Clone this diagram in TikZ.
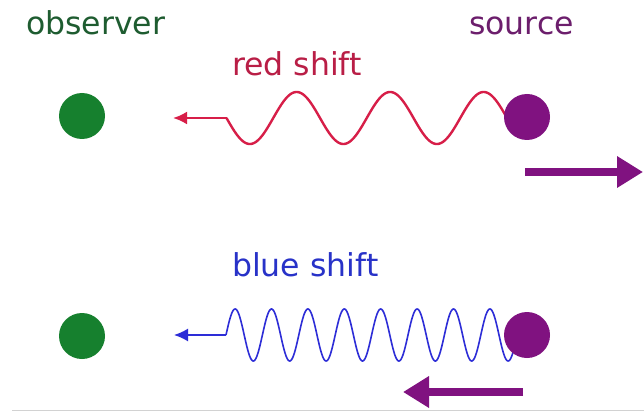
\documentclass[tikz,border=0pt]{standalone}
\usepackage{fontspec}
\setmainfont{DejaVu Sans}
\usetikzlibrary{arrows.meta}
\definecolor{obsgreen}{RGB}{30,92,48}
\definecolor{dotgreen}{RGB}{22,128,46}
\definecolor{srcpurple}{RGB}{108,30,108}
\definecolor{dotpurple}{RGB}{128,18,128}
\definecolor{redtext}{RGB}{185,30,70}
\definecolor{redwave}{RGB}{215,30,72}
\definecolor{bluetext}{RGB}{40,50,200}
\definecolor{bluewave}{RGB}{45,45,215}
\tikzset{
  lbl/.style={inner sep=0pt, anchor=base west, font=\fontsize{31.5}{36}\selectfont},
  dot/.style={circle, inner sep=0pt, minimum size=46pt, fill=#1},
  motion/.style={draw=dotpurple, line width=8pt, -{Triangle[length=26pt,width=30pt]}},
  wavered/.style={draw=redwave, line width=2.4pt},
  waveblue/.style={draw=bluewave, line width=1.6pt},
}
\begin{document}
\begin{tikzpicture}[x=1pt,y=-1pt]
\useasboundingbox (0,0) rectangle (644,414);
\fill[white] (0,0) rectangle (644,414);
% labels
\node[lbl, text=obsgreen] (obs) at (26,35) {observer};
\node[lbl, text=srcpurple] (src) at (469,35) {source};
\node[lbl, text=redtext] (rs) at (232,76) {red shift};
\node[lbl, text=bluetext] (bs) at (232,276) {blue shift};
% red shift wave
\coordinate (rstart) at (226.5,118);
\coordinate (rtip) at (173,118);
\draw[wavered, line join=round] plot[domain=0:289, samples=300] ({226.5+\x},{118+26*sin(3.85*\x)});
\draw[wavered, -{Latex[length=14pt,width=13pt]}] (rstart) -- (rtip);
% blue shift wave
\coordinate (bstart) at (226,335);
\coordinate (btip) at (174,335);
\draw[waveblue] plot[domain=0:289, samples=500] ({226+\x},{335-26*sin(9.89*\x)});
\draw[waveblue, -{Latex[length=14pt,width=13pt]}] (bstart) -- (btip);
% dots
\node[dot=dotgreen] (obs1) at (82,116) {};
\node[dot=dotpurple] (src1) at (527,117) {};
\node[dot=dotgreen] (obs2) at (82,336) {};
\node[dot=dotpurple] (src2) at (527,335) {};
% motion arrows
\coordinate (m1a) at (525,172);
\coordinate (m1b) at (643,172);
\draw[motion] (m1a) -- (m1b);
\coordinate (m2a) at (523,392);
\coordinate (m2b) at (403,392);
\draw[motion] (m2a) -- (m2b);
% bottom rule
\coordinate (ra) at (12,410.5);
\coordinate (rb) at (644,410.5);
\draw[gray!35, line width=1.5pt] (ra) -- (rb);
\end{tikzpicture}
\end{document}
